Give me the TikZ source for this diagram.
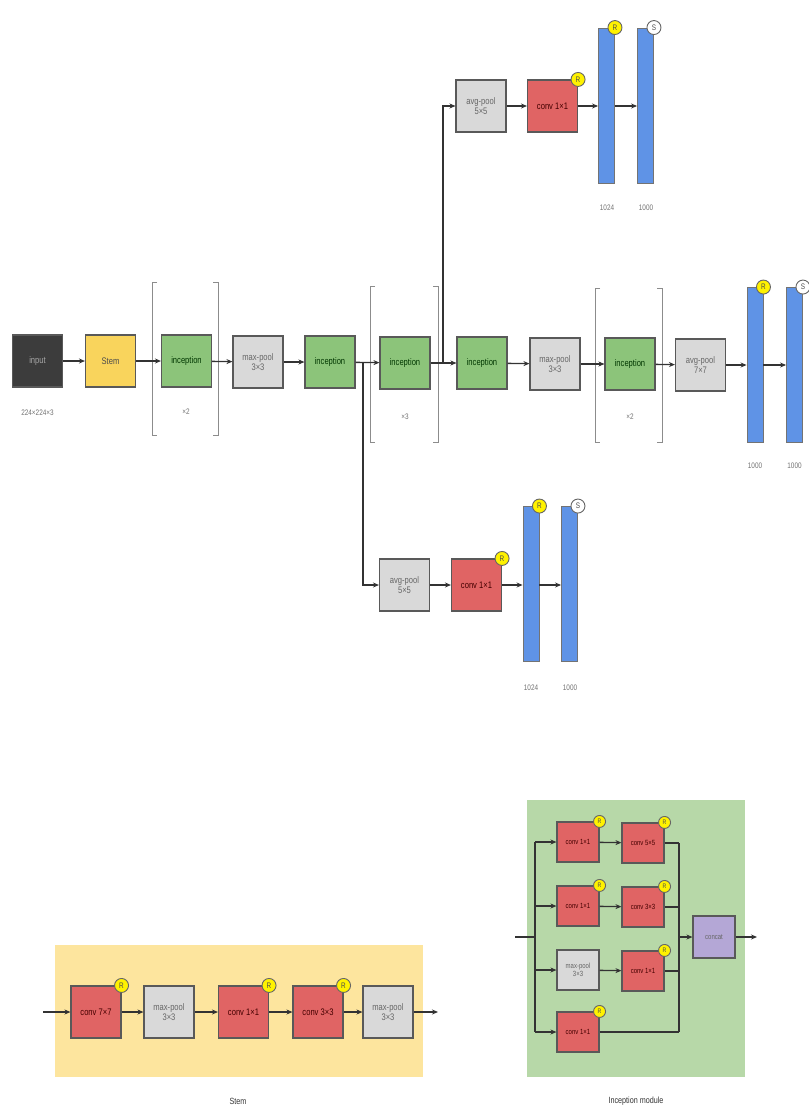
\documentclass[tikz,border=0pt]{standalone}
\usepackage{fontspec}
\setmainfont{Liberation Sans}[FakeStretch=0.8]
\usetikzlibrary{arrows.meta,calc}
\definecolor{cinput}{HTML}{3C3C3C}
\definecolor{cstem}{HTML}{F9D45C}
\definecolor{cgreen}{HTML}{8CC47A}
\definecolor{cgray}{HTML}{D9D9D9}
\definecolor{cred}{HTML}{E06464}
\definecolor{cblue}{HTML}{5F93E6}
\definecolor{cconcat}{HTML}{B4A7D6}
\definecolor{cpanely}{HTML}{FDE59E}
\definecolor{cpanelg}{HTML}{B7D8A8}
\definecolor{cline}{HTML}{333333}
\begin{document}
\begin{tikzpicture}[x=1pt,y=-1pt,
  box/.style={rectangle,draw=black!65,line width=1.1pt,minimum width=50pt,minimum height=52pt,inner sep=1pt,align=center,font=\fontsize{9.5}{10.5}\selectfont,
    preaction={draw=black!55,line width=1pt,transform canvas={yshift=-0.8pt}}},
  inbox/.style={box,fill=cinput,text=black!35},
  stembox/.style={box,fill=cstem,text=black!70},
  incbox/.style={box,fill=cgreen,text=black!65!green!60!black},
  graybox/.style={box,fill=cgray,text=black!60},
  redbox/.style={box,fill=cred,text=black!55!red!60!black},
  smallbox/.style={minimum width=42pt,minimum height=40pt,font=\fontsize{7.5}{8.5}\selectfont},
  bar/.style={rectangle,draw=black!55,line width=0.9pt,fill=cblue,minimum width=16pt,minimum height=155pt,inner sep=0pt},
  rdot/.style={circle,draw=black!60,line width=0.9pt,fill=yellow,minimum size=14pt,inner sep=0pt,font=\fontsize{8}{8}\selectfont,text=black!70},
  sdot/.style={circle,draw=black!60,line width=0.9pt,fill=white,minimum size=14pt,inner sep=0pt,font=\fontsize{8}{8}\selectfont,text=black!70},
  lab/.style={font=\fontsize{8}{9}\selectfont,text=black!55},
  arr/.style={-{Stealth[length=6pt,width=5pt]},line width=1.3pt,draw=cline},
  ln/.style={line width=1.3pt,draw=cline},
  brk/.style={draw=black!45,line width=0.8pt},
  captext/.style={font=\fontsize{9}{10}\selectfont,text=black!80}
]
\useasboundingbox (0,0) rectangle (808,1110);
\fill[white] (0,0) rectangle (808,1110);

% ---------- main row ----------
\node[inbox]   (input) at (37.5,361) {input};
\node[lab]     (inlab) at (37.5,413) {224×224×3};
\node[stembox] (stem)  at (110.5,361) {Stem};
\node[incbox]  (inc1)  at (186.5,361) {inception};
\node[graybox] (mp1)   at (258,362) {max-pool\\3×3};
\node[incbox]  (inc2)  at (330,362) {inception};
\node[incbox]  (inc3)  at (405,363) {inception};
\node[incbox]  (inc4)  at (482,363) {inception};
\node[graybox] (mp2)   at (555,364) {max-pool\\3×3};
\node[incbox]  (inc5)  at (630,364) {inception};
\node[graybox] (ap7)   at (700.5,365) {avg-pool\\7×7};
\node[bar]     (mb1)   at (755,365) {};
\node[bar]     (mb2)   at (794.5,365) {};
\node[rdot]    (mr1)   at (mb1.north east) {R};
\node[sdot]    (ms2)   at (mb2.north east) {S};
\node[lab]     (ml1)   at (755,466) {1000};
\node[lab]     (ml2)   at (794.5,466) {1000};

% brackets
\draw[brk] (157,282) -- (152,282) -- (152,435) -- (157,435);
\draw[brk] (213,282) -- (218,282) -- (218,435) -- (213,435);
\node[lab] (x2a) at (186,412) {×2};
\draw[brk] (375,286) -- (370,286) -- (370,442) -- (375,442);
\draw[brk] (433,286) -- (438,286) -- (438,442) -- (433,442);
\node[lab] (x3) at (405,417) {×3};
\draw[brk] (600,288) -- (595,288) -- (595,442) -- (600,442);
\draw[brk] (657,288) -- (662,288) -- (662,442) -- (657,442);
\node[lab] (x2b) at (630,417) {×2};

\draw[arr] (input) -- (stem);
\draw[arr] (stem) -- (inc1);
\draw[arr] (inc1) -- (mp1);
\draw[arr] (mp1) -- (inc2);
\draw[arr] (inc2) -- (inc3);
\draw[arr] (inc3) -- (inc4);
\draw[arr] (inc4) -- (mp2);
\draw[arr] (mp2) -- (inc5);
\draw[arr] (inc5) -- (ap7);
\draw[arr] (ap7.east) -- (ap7.east -| mb1.west);
\draw[arr] (mb1.east |- ap7.east) -- (ap7.east -| mb2.west);

% ---------- top auxiliary branch ----------
\node[graybox] (tap) at (481,106) {avg-pool\\5×5};
\node[redbox]  (tcv) at (552.5,106) {conv 1×1};
\node[rdot]    (tcr) at (tcv.north east) {R};
\node[bar]     (tb1) at (606.5,105.5) {};
\node[bar]     (tb2) at (645.5,105.5) {};
\node[rdot]    (tbr) at (tb1.north east) {R};
\node[sdot]    (tbs) at (tb2.north east) {S};
\node[lab]     (tl1) at (607,208) {1024};
\node[lab]     (tl2) at (646,208) {1000};
\coordinate (tsplit) at (443,363);
\draw[arr] (tsplit) |- (tap.west);
\draw[arr] (tap) -- (tcv);
\draw[arr] (tcv.east) -- (tcv.east -| tb1.west);
\draw[arr] (tb1.east |- tcv.east) -- (tcv.east -| tb2.west);

% ---------- bottom auxiliary branch ----------
\node[graybox] (bap) at (404.5,585) {avg-pool\\5×5};
\node[redbox]  (bcv) at (476.5,585) {conv 1×1};
\node[rdot]    (bcr) at (bcv.north east) {R};
\node[bar]     (bb1) at (531,584) {};
\node[bar]     (bb2) at (569.5,584) {};
\node[rdot]    (bbr) at (bb1.north east) {R};
\node[sdot]    (bbs) at (bb2.north east) {S};
\node[lab]     (bl1) at (531,688) {1024};
\node[lab]     (bl2) at (570,688) {1000};
\coordinate (bsplit) at (363,362);
\draw[arr] (bsplit) |- (bap.west);
\draw[arr] (bap) -- (bcv);
\draw[arr] (bcv.east) -- (bcv.east -| bb1.west);
\draw[arr] (bb1.east |- bcv.east) -- (bcv.east -| bb2.west);

% ---------- Stem panel ----------
\fill[cpanely] (55,945) rectangle (423,1077);
\node[redbox]  (s1) at (96,1012) {conv 7×7};
\node[graybox] (s2) at (169,1012) {max-pool\\3×3};
\node[redbox]  (s3) at (243.5,1012) {conv 1×1};
\node[redbox]  (s4) at (318,1012) {conv 3×3};
\node[graybox] (s5) at (388,1012) {max-pool\\3×3};
\node[rdot] (s1r) at (s1.north east) {R};
\node[rdot] (s3r) at (s3.north east) {R};
\node[rdot] (s4r) at (s4.north east) {R};
\coordinate (sin) at (43,1012);
\coordinate (sout) at (438,1012);
\draw[arr] (sin) -- (s1);
\draw[arr] (s1) -- (s2);
\draw[arr] (s2) -- (s3);
\draw[arr] (s3) -- (s4);
\draw[arr] (s4) -- (s5);
\draw[arr] (s5) -- (sout);
\node[captext] (stemcap) at (238,1101) {Stem};

% ---------- Inception module panel ----------
\fill[cpanelg] (527,800) rectangle (745,1077);
\node[redbox,smallbox]  (a1) at (578,842) {conv 1×1};
\node[redbox,smallbox]  (a2) at (643,843) {conv 5×5};
\node[redbox,smallbox]  (b1) at (578,906) {conv 1×1};
\node[redbox,smallbox]  (b2) at (643,907) {conv 3×3};
\node[graybox,smallbox] (c1) at (578,970) {max-pool\\3×3};
\node[redbox,smallbox]  (c2) at (643,971) {conv 1×1};
\node[redbox,smallbox]  (d1) at (578,1032) {conv 1×1};
\node[box,smallbox,fill=cconcat,text=black!60,minimum width=42pt,minimum height=42pt] (cc) at (714,937) {concat};
\node[rdot,minimum size=12pt,font=\fontsize{6.5}{6.5}\selectfont] (a1r) at (a1.north east) {R};
\node[rdot,minimum size=12pt,font=\fontsize{6.5}{6.5}\selectfont] (a2r) at (a2.north east) {R};
\node[rdot,minimum size=12pt,font=\fontsize{6.5}{6.5}\selectfont] (b1r) at (b1.north east) {R};
\node[rdot,minimum size=12pt,font=\fontsize{6.5}{6.5}\selectfont] (b2r) at (b2.north east) {R};
\node[rdot,minimum size=12pt,font=\fontsize{6.5}{6.5}\selectfont] (c2r) at (c2.north east) {R};
\node[rdot,minimum size=12pt,font=\fontsize{6.5}{6.5}\selectfont] (d1r) at (d1.north east) {R};
\coordinate (iin) at (515,937);
\coordinate (ibus) at (535,937);
\coordinate (obus) at (679,937);
\coordinate (iout) at (757,937);
\draw[ln] (iin) -- (ibus);
\draw[ln] (ibus |- a1.west) -- (ibus |- d1.west);
\draw[arr] (ibus |- a1.west) -- (a1.west);
\draw[arr] (ibus |- b1.west) -- (b1.west);
\draw[arr] (ibus |- c1.west) -- (c1.west);
\draw[arr] (ibus |- d1.west) -- (d1.west);
\draw[arr] (a1) -- (a2);
\draw[arr] (b1) -- (b2);
\draw[arr] (c1) -- (c2);
\draw[ln] (a2.east) -- (obus |- a2.east);
\draw[ln] (b2.east) -- (obus |- b2.east);
\draw[ln] (c2.east) -- (obus |- c2.east);
\draw[ln] (d1.east) -- (obus |- d1.east);
\draw[ln] (obus |- a2.east) -- (obus |- d1.east);
\draw[arr] (obus) -- (cc.west);
\draw[arr] (cc.east) -- (iout);
\node[captext] (inccap) at (636,1101) {Inception module};
\end{tikzpicture}
\end{document}
